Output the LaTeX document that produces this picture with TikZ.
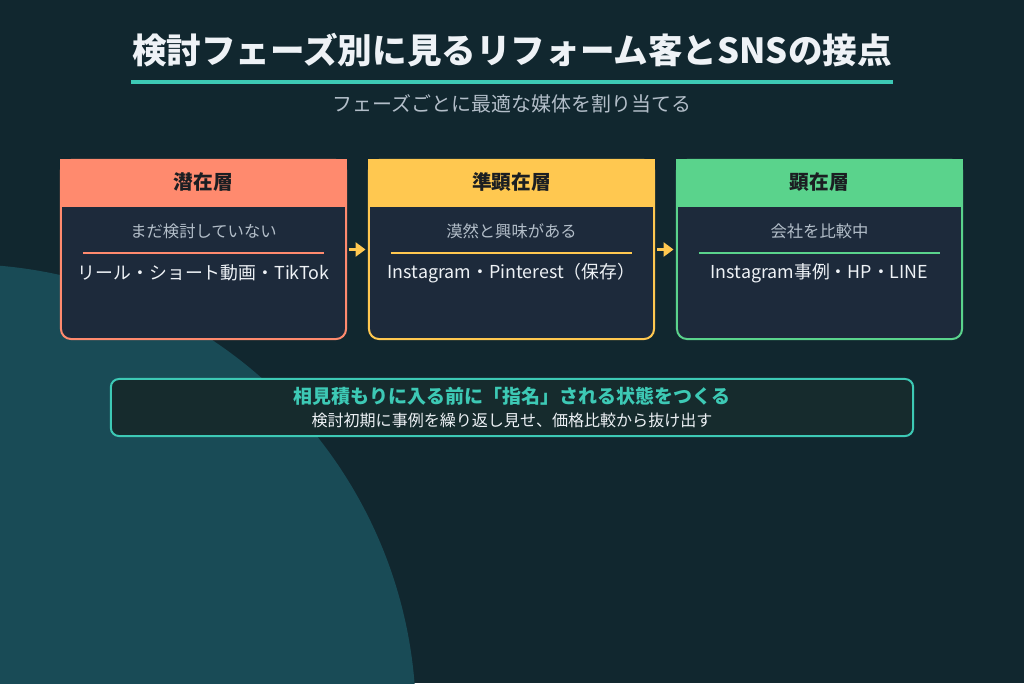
\documentclass[tikz,border=0pt]{standalone}
\usepackage{fontspec}
\setmainfont{Noto Sans CJK JP}
\usetikzlibrary{arrows.meta, calc, positioning}

\definecolor{bgdark}{HTML}{11272F}
\definecolor{bgcircle}{HTML}{194B56}
\definecolor{cardbody}{HTML}{1D2A3B}
\definecolor{coral}{HTML}{FF8A6E}
\definecolor{sunny}{HTML}{FFC850}
\definecolor{mint}{HTML}{5AD38C}
\definecolor{accent}{HTML}{3DC9B5}
\definecolor{notefill}{HTML}{162B2D}
\definecolor{headtext}{HTML}{1B1E22}
\definecolor{subgray}{HTML}{B3BEC9}
\definecolor{lighttext}{HTML}{EEF2F6}

\begin{document}
\begin{tikzpicture}[x=0.025cm, y=-0.025cm,
    card/.style={draw=#1, fill=cardbody, line width=0.05cm, rounded corners=0.25cm,
      minimum width=7.125cm, minimum height=4.475cm, inner sep=0pt},
    head/.style={font=\fontsize{14}{16}\selectfont\bfseries, text=headtext},
    sub/.style={font=\fontsize{11.6}{13}\selectfont, text=subgray},
    media/.style={font=\fontsize{12.7}{14}\selectfont, text=lighttext},
    flow/.style={-{Triangle[length=0.25cm, width=0.35cm]}, draw=sunny, line width=0.08cm,
      shorten <=0.05cm, shorten >=0.06cm}]
    % Background
    \useasboundingbox (0,0) rectangle (1024,683);
    \fill[bgdark] (0,0) rectangle (1024,683);
    \begin{scope}
        \clip (0,0) rectangle (1024,683);
        \fill[bgcircle] (-40,720) circle (456);
    \end{scope}

    % Title
    \node[font=\fontsize{24.6}{28}\selectfont\bfseries, text=lighttext] (title) at (512,50)
        {検討フェーズ別に見るリフォーム客とSNSの接点};
    \draw[accent, line width=0.1cm] (131,82) -- (893,82);
    \node[font=\fontsize{14.2}{16}\selectfont, text=subgray] (subtitle) at (512,104)
        {フェーズごとに最適な媒体を割り当てる};

    % Phase cards
    \path (0,207) coordinate (hb) (0,253) coordinate (sl);
    \foreach \n/\x/\col/\phase/\mood/\media in {
        1/203.5/coral/潜在層/まだ検討していない/リール・ショート動画・TikTok,
        2/511.5/sunny/準顕在層/漠然と興味がある/Instagram・Pinterest（保存）,
        3/819.5/mint/顕在層/会社を比較中/Instagram事例・HP・LINE}{
        \node[card=\col] (c\n) at (\x,249.5) {};
        \fill[\col] (c\n.north west) rectangle (c\n.east |- hb);
        \node[head] (h\n) at (\x,182) {\phase};
        \node[sub] (s\n) at (\x,231) {\mood};
        \draw[\col, line width=0.05cm] ($(c\n.west |- sl)+(23,0)$) -- ($(c\n.east |- sl)+(-23,0)$);
        \node[media] (m\n) at (\x,273) {\media};
    }

    % Arrows between phases
    \draw[flow] (c1.east) -- (c2.west);
    \draw[flow] (c2.east) -- (c3.west);

    % Message box
    \node[draw=accent, fill=notefill, line width=0.05cm, rounded corners=0.2cm,
        minimum width=20.05cm, minimum height=1.425cm] (note) at (512,407.5) {};
    \node[font=\fontsize{13.5}{16}\selectfont\bfseries, text=accent] (key) at (512,396)
        {相見積もりに入る前に「指名」される状態をつくる};
    \node[font=\fontsize{11.4}{13}\selectfont, text=lighttext] (tip) at (512,420)
        {検討初期に事例を繰り返し見せ、価格比較から抜け出す};
\end{tikzpicture}
\end{document}
